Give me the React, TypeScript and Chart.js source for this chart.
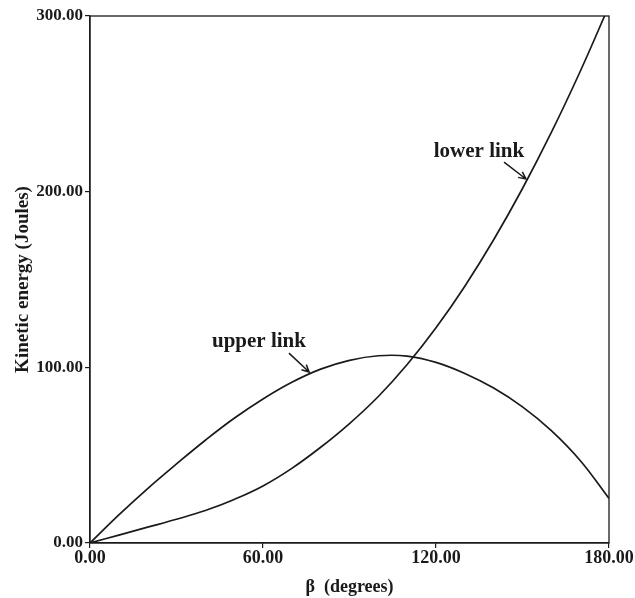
import React, { useEffect, useRef } from "react";
import { Chart, registerables } from "chart.js";

Chart.register(...registerables);

// β in degrees
const betaDeg = [0, 10, 20, 30, 40, 50, 60, 70, 80, 90, 100, 110, 120, 130, 140, 150, 160, 170, 180];
// Kinetic energy (Joules)
const upperLink = [0, 16, 31, 45, 58.5, 71, 82, 91.5, 99, 104, 106.6, 106.4, 102.8, 96.5, 88.2, 77.5, 64, 47, 25.4];
const lowerLink = [0, 4.5, 9, 13.5, 18.5, 24.8, 32.5, 42.5, 54.5, 68, 83.4, 101.6, 122.5, 146.2, 172.6, 201.8, 233.7, 268.4, 305.8];

const xTicks = [0, 60, 120, 180];
const yTicks = [0, 100, 200, 300];

// annotations in data units
const annotationLabels = ["upper link", "lower link"];
const annotationTextX = [58.6, 134.9];
const annotationTextY = [114.4, 223.1];
const arrowFromX = [69, 143.6];
const arrowFromY = [108.1, 216.8];
const arrowToX = [76, 151.2];
const arrowToY = [97.3, 207.2];

const FONT = "'Liberation Serif', 'Times New Roman', serif";
const INK = "#1a1a1a";

export default function App() {
  const canvasRef = useRef<HTMLCanvasElement | null>(null);

  useEffect(() => {
    const canvas = canvasRef.current;
    if (!canvas) return;

    const frame = {
      id: "frameAndNotes",
      afterDatasetsDraw(chart: any) {
        const { ctx, chartArea } = chart;
        const sx = chart.scales.x;
        const sy = chart.scales.y;
        ctx.save();
        ctx.strokeStyle = INK;
        ctx.lineWidth = 1.3;
        ctx.strokeRect(chartArea.left, chartArea.top, chartArea.right - chartArea.left, chartArea.bottom - chartArea.top);

        ctx.fillStyle = INK;
        ctx.font = `bold 21px ${FONT}`;
        ctx.textAlign = "center";
        ctx.textBaseline = "middle";
        annotationLabels.forEach((t, i) => {
          ctx.fillText(t, sx.getPixelForValue(annotationTextX[i]), sy.getPixelForValue(annotationTextY[i]));
          const x0 = sx.getPixelForValue(arrowFromX[i]);
          const y0 = sy.getPixelForValue(arrowFromY[i]);
          const x1 = sx.getPixelForValue(arrowToX[i]);
          const y1 = sy.getPixelForValue(arrowToY[i]);
          ctx.lineWidth = 1.5;
          ctx.beginPath();
          ctx.moveTo(x0, y0);
          ctx.lineTo(x1, y1);
          const ang = Math.atan2(y1 - y0, x1 - x0);
          const L = 8;
          ctx.moveTo(x1 - L * Math.cos(ang - 0.45), y1 - L * Math.sin(ang - 0.45));
          ctx.lineTo(x1, y1);
          ctx.lineTo(x1 - L * Math.cos(ang + 0.45), y1 - L * Math.sin(ang + 0.45));
          ctx.stroke();
        });
        ctx.restore();
      },
    };

    const chart = new Chart(canvas, {
      type: "line",
      data: {
        datasets: [
          {
            label: "upper link",
            data: betaDeg.map((b, i) => ({ x: b, y: upperLink[i] })),
            borderColor: INK,
            borderWidth: 1.7,
            pointRadius: 0,
            tension: 0.4,
            fill: false,
          },
          {
            label: "lower link",
            data: betaDeg.map((b, i) => ({ x: b, y: lowerLink[i] })),
            borderColor: INK,
            borderWidth: 1.7,
            pointRadius: 0,
            tension: 0.4,
            fill: false,
          },
        ],
      },
      options: {
        animation: false,
        responsive: true,
        maintainAspectRatio: false,
        layout: { padding: { left: 0, top: 16, right: 26, bottom: 0 } },
        plugins: { legend: { display: false }, tooltip: { enabled: false } },
        scales: {
          x: {
            type: "linear",
            min: 0,
            max: 180,
            afterFit: (s: any) => {
              s.height = 55;
            },
            afterBuildTicks: (s: any) => {
              s.ticks = xTicks.map((v) => ({ value: v }));
            },
            ticks: {
              color: INK,
              font: { family: FONT, size: 18, weight: "bold" },
              padding: 0,
              maxRotation: 0,
              callback: (v: any) => Number(v).toFixed(2),
            },
            grid: { display: true, drawOnChartArea: false, tickLength: 5, color: INK, lineWidth: 1.2 },
            border: { display: true, color: INK, width: 1.3 },
            title: {
              display: true,
              text: "β  (degrees)",
              color: INK,
              font: { family: FONT, size: 18, weight: "bold" },
              padding: { top: 0, bottom: 0 },
            },
          },
          y: {
            type: "linear",
            min: 0,
            max: 300,
            afterFit: (s: any) => {
              s.width = 90;
            },
            afterBuildTicks: (s: any) => {
              s.ticks = yTicks.map((v) => ({ value: v }));
            },
            ticks: {
              color: INK,
              font: { family: FONT, size: 17, weight: "bold" },
              padding: 2,
              callback: (v: any) => Number(v).toFixed(2),
            },
            grid: { display: true, drawOnChartArea: false, tickLength: 5, color: INK, lineWidth: 1.2 },
            border: { display: true, color: INK, width: 1.3 },
            title: {
              display: true,
              text: "Kinetic energy (Joules)",
              color: INK,
              font: { family: FONT, size: 19, weight: "bold" },
              padding: { top: 12, bottom: 0 },
            },
          },
        },
      },
      plugins: [frame],
    } as any);

    return () => chart.destroy();
  }, []);

  return (
    <div style={{ position: "absolute", left: 0, top: 0, width: 635, height: 598, background: "#fff" }}>
      <canvas ref={canvasRef} />
    </div>
  );
}
